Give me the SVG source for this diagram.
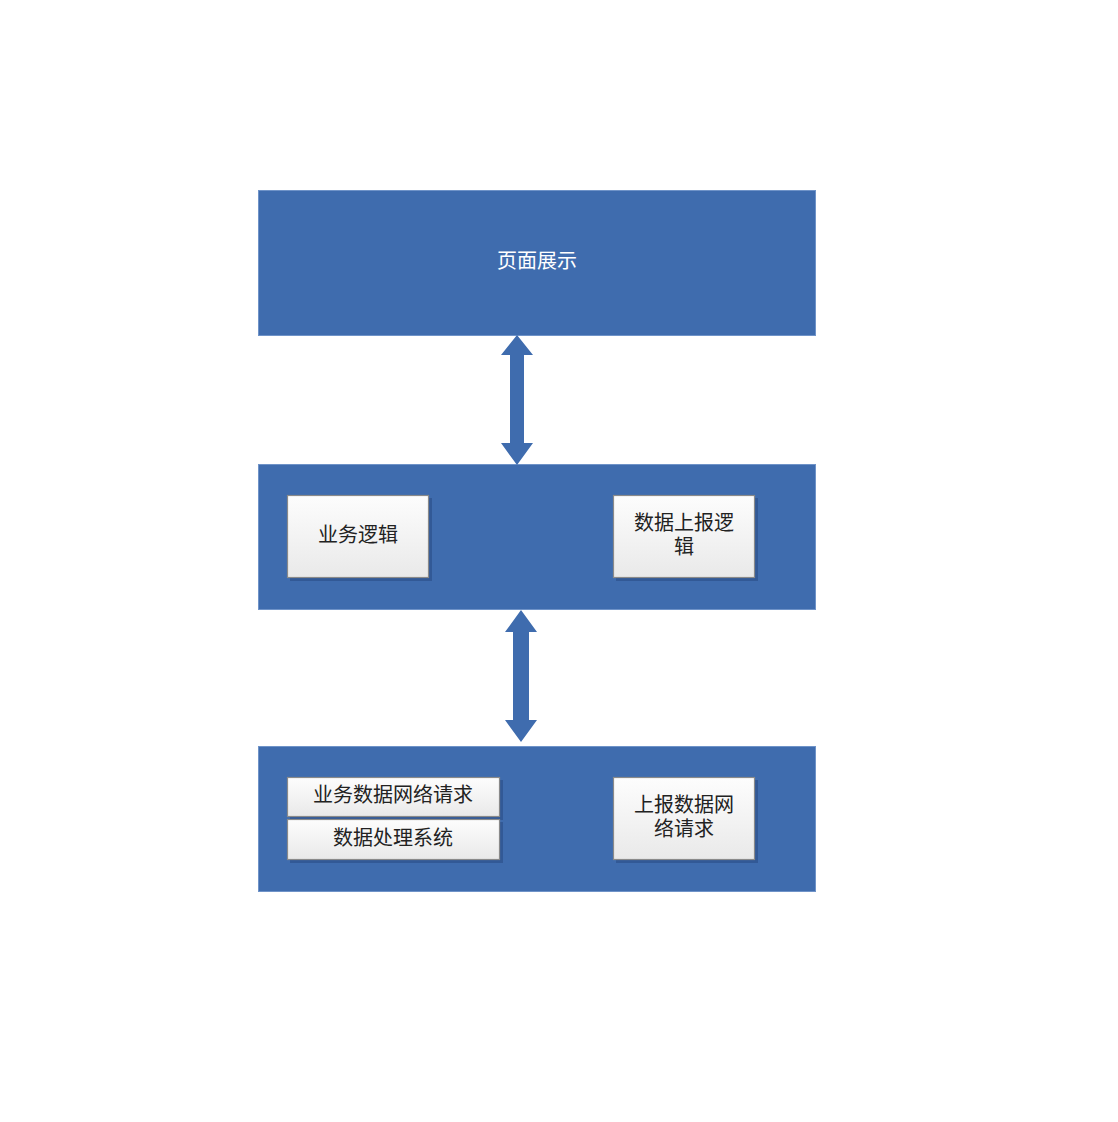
<svg xmlns="http://www.w3.org/2000/svg" width="1118" height="1122" viewBox="0 0 1118 1122">
<defs>
<linearGradient id="g" x1="0" y1="0" x2="0" y2="1">
<stop offset="0" stop-color="#fdfdfd"/>
<stop offset="1" stop-color="#e9e9e9"/>
</linearGradient>
</defs>
<style>
.layer{fill:#3f6cae;stroke:#6f93c8;stroke-width:1}
.shadow{fill:#2f5590;opacity:0.8}
.box{fill:url(#g);stroke:#8a8a8a;stroke-width:1.2}
.t{font-family:"Liberation Sans","Noto Sans CJK SC",sans-serif;font-size:20px;fill:#222;text-anchor:middle}
.tw{fill:#ffffff}
.arrow{fill:#3f6cae}
</style>
<rect width="1118" height="1122" fill="#ffffff"/>
<g id="layer-top">
<rect class="layer" x="258.5" y="190.5" width="557" height="145"/>
<text class="t tw" x="537" y="268">页面展示</text>
</g>
<g id="layer-middle">
<rect class="layer" x="258.5" y="464.5" width="557" height="145"/>
</g>
<g id="layer-bottom">
<rect class="layer" x="258.5" y="746.5" width="557" height="145"/>
</g>
<g id="node-biz-logic">
<rect class="shadow" x="290" y="498" width="142" height="83"/>
<rect class="box" x="287.5" y="495.5" width="141" height="82"/>
<text class="t" x="358" y="542">业务逻辑</text>
</g>
<g id="node-report-logic">
<rect class="shadow" x="616" y="498" width="142" height="83"/>
<rect class="box" x="613.5" y="495.5" width="141" height="82"/>
<text class="t" x="684" y="530">数据上报逻</text>
<text class="t" x="684" y="554">辑</text>
</g>
<g id="node-biz-net">
<rect class="shadow" x="290" y="780" width="213" height="40"/>
<rect class="box" x="287.5" y="777.5" width="212" height="39"/>
<text class="t" x="393" y="802">业务数据网络请求</text>
</g>
<g id="node-data-proc">
<rect class="shadow" x="290" y="822" width="213" height="41"/>
<rect class="box" x="287.5" y="819.5" width="212" height="40"/>
<text class="t" x="393" y="845">数据处理系统</text>
</g>
<g id="node-report-net">
<rect class="shadow" x="616" y="780" width="142" height="83"/>
<rect class="box" x="613.5" y="777.5" width="141" height="82"/>
<text class="t" x="684" y="812">上报数据网</text>
<text class="t" x="684" y="836">络请求</text>
</g>
<g id="connectors">
<polygon class="arrow" points="517,335 533,355 524,355 524,443 533,443 517,465 501,443 510,443 510,355 501,355"/>
<polygon class="arrow" points="521,610 537,632 529,632 529,720 537,720 521,742 505,720 513,720 513,632 505,632"/>
</g>
</svg>
